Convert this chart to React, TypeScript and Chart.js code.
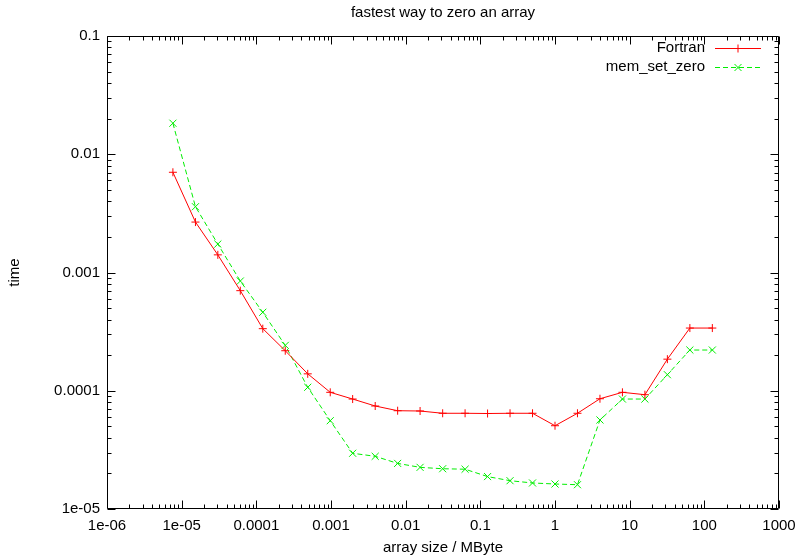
import React, { useEffect, useRef } from 'react';
import { Chart, registerables } from 'chart.js';

Chart.register(...registerables);

// ---- data ----
const titleText = 'fastest way to zero an array';
const xTitle = 'array size / MByte';
const yTitle = 'time';
const seriesNames = ['Fortran', 'mem_set_zero'];

const sizesMB = [
  7.63e-6, 1.53e-5, 3.05e-5, 6.1e-5, 1.22e-4, 2.44e-4, 4.88e-4, 9.77e-4,
  1.95e-3, 3.91e-3, 7.81e-3, 1.56e-2, 3.13e-2, 6.25e-2, 0.125, 0.25, 0.5,
  1, 2, 4, 8, 16, 32, 64, 128,
];
const fortranTimes = [
  0.00704, 0.00267, 0.00141, 0.000702, 0.000335, 0.000218, 0.000139, 9.7e-5,
  8.51e-5, 7.43e-5, 6.78e-5, 6.74e-5, 6.45e-5, 6.45e-5, 6.42e-5, 6.45e-5,
  6.45e-5, 5.06e-5, 6.45e-5, 8.56e-5, 9.7e-5, 9.26e-5, 1.85e-4, 3.39e-4,
  3.39e-4,
];
const memSetZeroTimes = [
  0.0183, 0.0036, 0.00174, 0.000847, 0.000461, 0.000242, 0.000107, 5.58e-5,
  2.96e-5, 2.79e-5, 2.43e-5, 2.25e-5, 2.19e-5, 2.17e-5, 1.88e-5, 1.735e-5,
  1.66e-5, 1.627e-5, 1.605e-5, 5.66e-5, 8.51e-5, 8.51e-5, 1.367e-4, 2.21e-4,
  2.21e-4,
];

const xTickValues = [1e-6, 1e-5, 1e-4, 1e-3, 1e-2, 1e-1, 1, 10, 100, 1000];
const xTickLabels = ['1e-06', '1e-05', '0.0001', '0.001', '0.01', '0.1', '1', '10', '100', '1000'];
const yTickValues = [1e-5, 1e-4, 1e-3, 1e-2, 1e-1];
const yTickLabels = ['1e-05', '0.0001', '0.001', '0.01', '0.1'];

const RED = '#ff0000';
const GREEN = '#00ee00';
const FONT = '"Liberation Sans", Arial, sans-serif';
const FS = 15;

function drawPlus(ctx: CanvasRenderingContext2D, x: number, y: number, r: number) {
  ctx.beginPath();
  ctx.moveTo(x - r, y);
  ctx.lineTo(x + r, y);
  ctx.moveTo(x, y - r);
  ctx.lineTo(x, y + r);
  ctx.stroke();
}
function drawX(ctx: CanvasRenderingContext2D, x: number, y: number, r: number) {
  ctx.beginPath();
  ctx.moveTo(x - r, y - r);
  ctx.lineTo(x + r, y + r);
  ctx.moveTo(x - r, y + r);
  ctx.lineTo(x + r, y - r);
  ctx.stroke();
}

const framePlugin = {
  id: 'gnuFrame',
  afterDraw(chart: any) {
    const { ctx, chartArea } = chart;
    const xs = chart.scales.x;
    const ys = chart.scales.y;
    const L = Math.round(chartArea.left) + 0.5;
    const R = Math.round(chartArea.right) - 0.5;
    const T = Math.round(chartArea.top) + 0.5;
    const B = Math.round(chartArea.bottom) - 0.5;
    ctx.save();
    ctx.strokeStyle = '#000';
    ctx.lineWidth = 1;
    ctx.setLineDash([]);
    ctx.beginPath();
    ctx.moveTo(L, T);
    ctx.lineTo(R, T);
    ctx.lineTo(R, B);
    ctx.lineTo(L, B);
    ctx.closePath();
    ctx.stroke();
    const majX = 8, minX = 4, majY = 8, minY = 4;
    ctx.beginPath();
    for (let d = -6; d <= 3; d++) {
      for (let m = 1; m <= 9; m++) {
        const v = m * Math.pow(10, d);
        if (v < xs.min * 0.999 || v > xs.max * 1.001) continue;
        const px = Math.round(xs.getPixelForValue(v)) + 0.5;
        const len = m === 1 ? majX : minX;
        ctx.moveTo(px, B);
        ctx.lineTo(px, B - len);
        ctx.moveTo(px, T);
        ctx.lineTo(px, T + len);
      }
    }
    for (let d = -5; d <= -1; d++) {
      for (let m = 1; m <= 9; m++) {
        const v = m * Math.pow(10, d);
        if (v < ys.min * 0.999 || v > ys.max * 1.001) continue;
        const py = Math.round(ys.getPixelForValue(v)) + 0.5;
        const len = m === 1 ? majY : minY;
        ctx.moveTo(L, py);
        ctx.lineTo(L + len, py);
        ctx.moveTo(R, py);
        ctx.lineTo(R - len, py);
      }
    }
    ctx.stroke();

    // title, centred over the plot area
    ctx.font = `${FS}px ${FONT}`;
    ctx.fillStyle = '#000';
    ctx.textAlign = 'center';
    ctx.textBaseline = 'middle';
    ctx.fillText(titleText, (chartArea.left + chartArea.right) / 2, 13);

    // legend
    ctx.textAlign = 'right';
    const rows = [
      { name: seriesNames[0], color: RED, dash: [] as number[], marker: 'plus', y: 48 },
      { name: seriesNames[1], color: GREEN, dash: [5, 3], marker: 'x', y: 67 },
    ];
    const textRight = 705;
    const x0 = 715, x1 = 761, xm = 738;
    for (const r of rows) {
      ctx.fillStyle = '#000';
      ctx.fillText(r.name, textRight, r.y);
      ctx.strokeStyle = r.color;
      ctx.lineWidth = 1;
      ctx.setLineDash(r.dash);
      ctx.beginPath();
      ctx.moveTo(x0, r.y + 0.5);
      ctx.lineTo(x1, r.y + 0.5);
      ctx.stroke();
      ctx.setLineDash([]);
      if (r.marker === 'plus') drawPlus(ctx, xm, r.y + 0.5, 4);
      else drawX(ctx, xm, r.y + 0.5, 3.5);
    }
    ctx.restore();
  },
};

export default function App() {
  const ref = useRef<HTMLCanvasElement | null>(null);
  useEffect(() => {
    document.body.style.margin = '0';
    const canvas = ref.current;
    if (!canvas) return;
    const chart = new Chart(canvas, {
      type: 'scatter',
      data: {
        datasets: [
          {
            label: seriesNames[0],
            data: sizesMB.map((x, i) => ({ x, y: fortranTimes[i] })),
            showLine: true,
            borderColor: RED,
            borderWidth: 1,
            pointStyle: 'cross',
            pointRadius: 4,
            pointBorderColor: RED,
            pointBorderWidth: 1,
            pointBackgroundColor: RED,
            tension: 0,
          },
          {
            label: seriesNames[1],
            data: sizesMB.map((x, i) => ({ x, y: memSetZeroTimes[i] })),
            showLine: true,
            borderColor: GREEN,
            borderWidth: 1,
            borderDash: [5, 3],
            pointStyle: 'crossRot',
            pointRadius: 5,
            pointBorderColor: GREEN,
            pointBorderWidth: 1,
            pointBackgroundColor: GREEN,
            tension: 0,
          },
        ],
      },
      options: {
        responsive: false,
        animation: false,
        devicePixelRatio: 1,
        layout: { padding: { left: 0, right: 21, top: 36, bottom: 0 } },
        plugins: {
          legend: { display: false },
          tooltip: { enabled: false },
          title: { display: false },
        },
        scales: {
          x: {
            type: 'logarithmic',
            min: 1e-6,
            max: 1000,
            afterBuildTicks: (s: any) => {
              s.ticks = xTickValues.map((v) => ({ value: v }));
            },
            afterFit: (s: any) => {
              s.height = 49;
              s.paddingLeft = 0;
              s.paddingRight = 0;
            },
            grid: { display: false, drawTicks: false },
            border: { display: false },
            ticks: {
              autoSkip: false,
              maxRotation: 0,
              padding: 8,
              color: '#000',
              font: { family: FONT, size: FS },
              callback: (_v: any, i: number) => xTickLabels[i],
            },
            title: {
              display: true,
              text: xTitle,
              color: '#000',
              font: { family: FONT, size: FS },
              padding: { top: 0, bottom: 1 },
            },
          },
          y: {
            type: 'logarithmic',
            min: 1e-5,
            max: 0.1,
            afterBuildTicks: (s: any) => {
              s.ticks = yTickValues.map((v) => ({ value: v }));
            },
            afterFit: (s: any) => {
              s.width = 107;
              s.paddingTop = 0;
              s.paddingBottom = 0;
            },
            grid: { display: false, drawTicks: false },
            border: { display: false },
            ticks: {
              autoSkip: false,
              padding: 7,
              color: '#000',
              font: { family: FONT, size: FS },
              callback: (_v: any, i: number) => yTickLabels[i],
            },
            title: {
              display: true,
              text: yTitle,
              color: '#000',
              font: { family: FONT, size: FS },
              padding: { top: 6, bottom: 0 },
            },
          },
        },
      } as any,
      plugins: [framePlugin],
    });
    return () => chart.destroy();
  }, []);
  return (
    <div style={{ position: 'absolute', left: 0, top: 0, width: 800, height: 558 }}>
      <canvas ref={ref} width={800} height={558} style={{ display: 'block' }} />
    </div>
  );
}
